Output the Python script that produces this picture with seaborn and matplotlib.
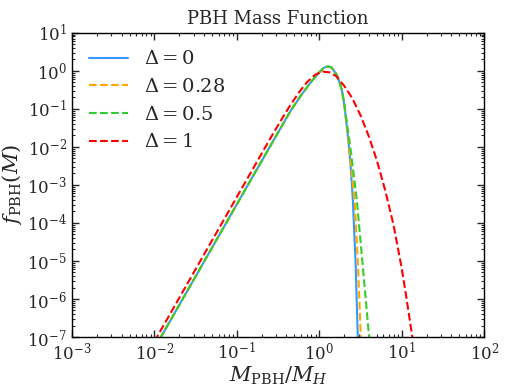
import numpy as np
import pandas as pd
import matplotlib
matplotlib.use("Agg")
import matplotlib.pyplot as plt
import seaborn as sns

# Curves, stored as log10(M/M_H) and log10(f)
LOGX_D0 = [-2.0, -1.92, -1.5, -1.0, -0.6, -0.35, -0.23, -0.11, 0.0, 0.05, 0.08, 0.11, 0.14,
           0.16, 0.21, 0.25, 0.273, 0.30, 0.313, 0.353, 0.38, 0.407, 0.44, 0.467, 0.48]
LOGY_D0 = [-7.30, -7.0, -5.41, -3.51, -2.0, -1.06, -0.67, -0.32, -0.04, 0.07, 0.105, 0.113, 0.095,
           0.06, -0.10, -0.33, -0.50, -0.85, -1.07, -1.85, -2.5, -3.4, -5.05, -7.0, -8.0]

LOGX_D028 = [-2.0, -1.92, -1.5, -1.0, -0.6, -0.35, -0.23, -0.11, 0.0, 0.05, 0.08, 0.11, 0.14,
             0.16, 0.21, 0.25, 0.273, 0.30, 0.313, 0.353, 0.39, 0.431, 0.47, 0.504, 0.52]
LOGY_D028 = [-7.30, -7.0, -5.41, -3.51, -2.0, -1.06, -0.67, -0.32, -0.04, 0.07, 0.105, 0.113, 0.095,
             0.06, -0.10, -0.33, -0.50, -0.84, -1.05, -1.80, -2.6, -3.5, -5.15, -7.0, -7.8]

LOGX_D05 = [-2.0, -1.92, -1.5, -1.0, -0.6, -0.35, -0.23, -0.11, 0.0, 0.05, 0.08, 0.11, 0.14,
            0.16, 0.21, 0.25, 0.273, 0.30, 0.313, 0.34, 0.37, 0.41, 0.455, 0.53, 0.604, 0.63]
LOGY_D05 = [-7.30, -7.0, -5.41, -3.51, -2.0, -1.06, -0.67, -0.32, -0.04, 0.07, 0.105, 0.113, 0.095,
            0.06, -0.10, -0.33, -0.50, -0.82, -1.02, -1.45, -1.9, -2.6, -3.4, -5.2, -7.0, -7.7]

LOGX_D1 = [-2.0, -1.968, -1.5, -1.0, -0.6, -0.45, -0.35, -0.25, -0.15, -0.05, 0.04, 0.12, 0.2,
           0.3, 0.4, 0.5, 0.6, 0.7, 0.8, 0.9, 1.0, 1.05, 1.1, 1.135, 1.2]
LOGY_D1 = [-7.12, -7.0, -5.22, -3.32, -1.80, -1.25, -0.90, -0.58, -0.30, -0.10, -0.02, -0.04, -0.13,
           -0.39, -0.72, -1.17, -1.72, -2.37, -3.15, -4.05, -5.2, -5.88, -6.6, -7.1, -8.2]

LABELS = [r"$\Delta = 0$", r"$\Delta = 0.28$", r"$\Delta = 0.5$", r"$\Delta = 1$"]
COLORS = ["#3399ff", "orange", "limegreen", "red"]
STYLES = ["-", "--", "--", "--"]

sns.set_style("ticks")
plt.rcParams["font.family"] = ["DejaVu Serif"]
plt.rcParams["mathtext.fontset"] = "dejavuserif"

fig = plt.figure(figsize=(5.06, 3.86), dpi=100)
ax = fig.add_axes([0.142, 0.127, 0.815, 0.788])

curves = [(LOGX_D0, LOGY_D0), (LOGX_D028, LOGY_D028), (LOGX_D05, LOGY_D05), (LOGX_D1, LOGY_D1)]
for (lx, ly), label, color, ls in zip(curves, LABELS, COLORS, STYLES):
    df = pd.DataFrame({"x": np.power(10.0, lx), "y": np.power(10.0, ly)})
    sns.lineplot(data=df, x="x", y="y", ax=ax, color=color, linestyle=ls,
                 linewidth=1.5, label=label, estimator=None, sort=False)

ax.set_xscale("log")
ax.set_yscale("log")
ax.set_xlim(1e-3, 1e2)
ax.set_ylim(1e-7, 1e1)
ax.set_xticks([1e-3, 1e-2, 1e-1, 1e0, 1e1, 1e2])
ax.set_yticks([1e-7, 1e-6, 1e-5, 1e-4, 1e-3, 1e-2, 1e-1, 1e0, 1e1])
ax.tick_params(which="both", direction="in", top=True, right=True, labelsize=12)
ax.tick_params(which="major", length=5, width=1)
ax.tick_params(which="minor", length=2.5, width=0.8)
for sp in ax.spines.values():
    sp.set_color("black")
    sp.set_linewidth(1)

ax.set_xlabel(r"$M_{\rm PBH}/M_H$", fontsize=15, labelpad=1)
ax.set_ylabel(r"$f_{\rm PBH}(M)$", fontsize=15, labelpad=2)
ax.set_title("PBH Mass Function", fontsize=13)
ax.legend(loc="upper left", frameon=False, fontsize=14, handlelength=2.0)

fig.savefig("out.png", dpi=100)
